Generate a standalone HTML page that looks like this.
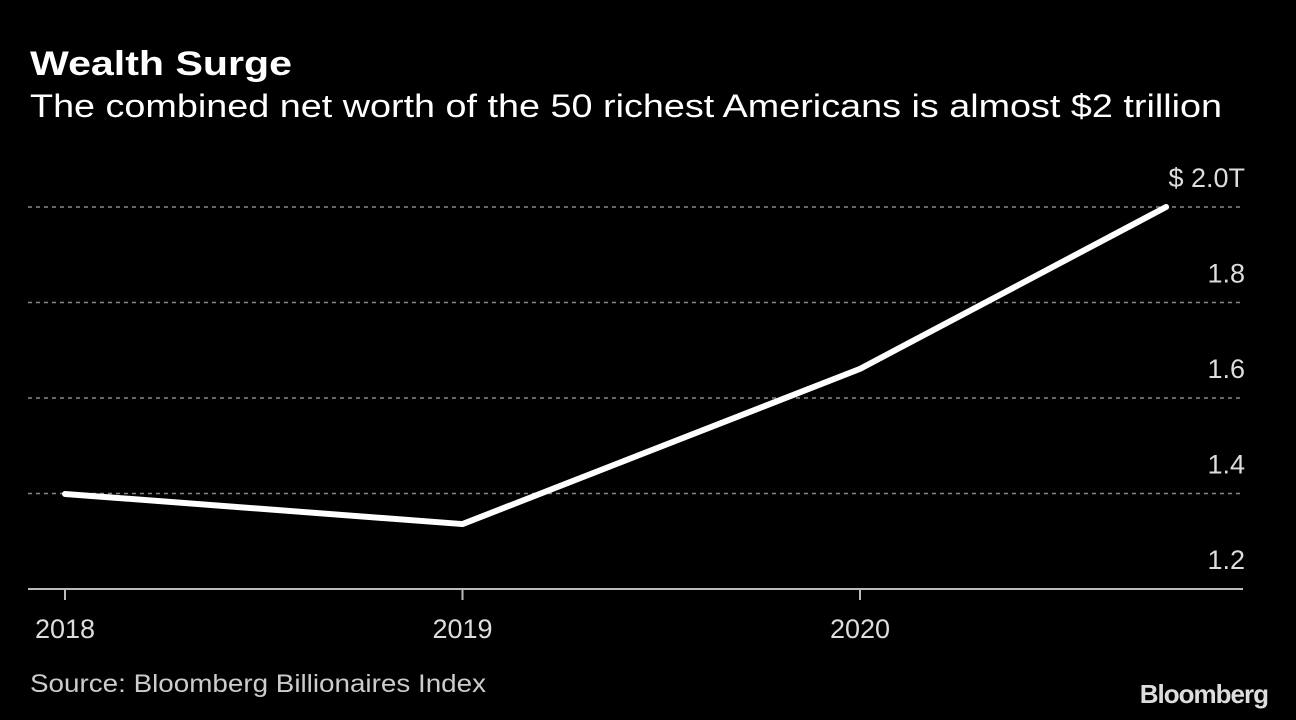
<!DOCTYPE html>
<html><head><meta charset="utf-8"><style>
html,body{margin:0;padding:0;background:#000;width:1296px;height:720px;overflow:hidden}
svg text{font-family:"Liberation Sans",sans-serif}
</style></head><body>
<svg width="1296" height="720" viewBox="0 0 1296 720">
<text x="30" y="75" font-size="34" font-weight="bold" fill="#fff" textLength="262" lengthAdjust="spacingAndGlyphs">Wealth Surge</text>
<text x="30" y="117" font-size="32" fill="#fff" textLength="1192" lengthAdjust="spacingAndGlyphs">The combined net worth of the 50 richest Americans is almost $2 trillion</text>
<g id="grid"></g>
<g id="xaxis"></g>
<path id="line" fill="none" stroke="#fff" stroke-width="6" stroke-linecap="round" stroke-linejoin="round"/>
<text x="30" y="692" font-size="25" fill="#ccc" textLength="456" lengthAdjust="spacingAndGlyphs">Source: Bloomberg Billionaires Index</text>
<text x="1268" y="703" font-size="26" font-weight="bold" fill="#ddd" text-anchor="end" letter-spacing="-1">Bloomberg</text>
</svg>
<script>
const years=[2018,2019,2020,2020.77];
const values=[1.399,1.336,1.661,2.0];
const yTicks=[1.2,1.4,1.6,1.8,2.0];
const yTickLabels=["1.2","1.4","1.6","1.8","$ 2.0T"];
const xTicks=[2018,2019,2020];
const xTickLabels=["2018","2019","2020"];
const ns="http://www.w3.org/2000/svg";
function xs(v){return 65+(v-2018)*397.5;}
function ys(v){return 589-(v-1.2)*477.5;}
const grid=document.getElementById('grid');
yTicks.forEach((t,i)=>{
  if(i>0){const l=document.createElementNS(ns,'line');
  l.setAttribute('x1',28);l.setAttribute('x2',1243);l.setAttribute('y1',ys(t));l.setAttribute('y2',ys(t));
  l.setAttribute('stroke','#888');l.setAttribute('stroke-width','1.5');l.setAttribute('stroke-dasharray','4 4');
  
  
  grid.appendChild(l);}
  const tx=document.createElementNS(ns,'text');
  tx.setAttribute('x',1245);tx.setAttribute('y',ys(t)-20);tx.setAttribute('text-anchor','end');
  tx.setAttribute('font-size','27');tx.setAttribute('fill','#ddd');tx.textContent=yTickLabels[i];
  
  
  grid.appendChild(tx);
});
const xa=document.getElementById('xaxis');
const base=document.createElementNS(ns,'line');
base.setAttribute('x1',28);base.setAttribute('x2',1243);base.setAttribute('y1',589);base.setAttribute('y2',589);
base.setAttribute('stroke','#bbb');base.setAttribute('stroke-width','2');


xa.appendChild(base);
xTicks.forEach((t,i)=>{
  const l=document.createElementNS(ns,'line');
  l.setAttribute('x1',xs(t));l.setAttribute('x2',xs(t));l.setAttribute('y1',589);l.setAttribute('y2',600);
  l.setAttribute('stroke','#bbb');l.setAttribute('stroke-width','2');
  
  
  xa.appendChild(l);
  const tx=document.createElementNS(ns,'text');
  tx.setAttribute('x',xs(t));tx.setAttribute('y',638);tx.setAttribute('text-anchor','middle');
  tx.setAttribute('font-size','27');tx.setAttribute('fill','#ddd');tx.textContent=xTickLabels[i];
  
  
  xa.appendChild(tx);
});
document.getElementById('line').setAttribute('d',years.map((y,i)=>(i?'L':'M')+xs(y)+' '+ys(values[i])).join(' '));
</script>
</body></html>
